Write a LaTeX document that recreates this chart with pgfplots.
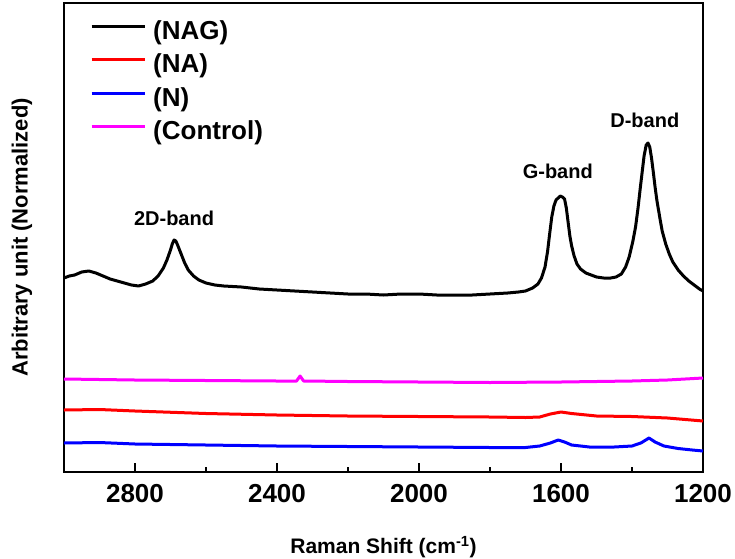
\documentclass[border=0pt]{standalone}
\usepackage{fontspec}
\setmainfont{Liberation Sans}
\usepackage{pgfplots}
\pgfplotsset{compat=1.18}
\definecolor{cmag}{RGB}{255,0,255}
\definecolor{cred}{RGB}{255,0,0}
\definecolor{cblue}{RGB}{0,0,255}
\begin{document}
\begin{tikzpicture}
\begin{axis}[
 scale only axis, width=639pt, height=469pt,
 at={(0,0)}, anchor=south west,
 x dir=reverse, xmin=1200, xmax=3000, ymin=0, ymax=469,
 xtick={1200,1600,2000,2400,2800}, minor x tick num=1,
 ytick=\empty,
 xtick pos=left, tick align=inside,
 major tick length=9pt, minor tick length=5pt,
 axis line style={line width=1.2pt},
 tick style={line width=1.2pt, black},
 /pgf/number format/assume math mode=true,
 /pgf/number format/1000 sep={},
 xticklabel style={font=\fontsize{26}{26}\selectfont\bfseries, anchor=center, yshift=-22pt},
 xlabel={Raman Shift (cm\textsuperscript{-1})},
 ylabel={Arbitrary unit (Normalized)},
 xlabel style={font=\fontsize{21}{21}\selectfont\bfseries, at={(axis description cs:0.5,-0.16)}, anchor=center},
 ylabel style={font=\fontsize{22}{22}\selectfont\bfseries, at={(axis description cs:-0.0657,0.5)}, anchor=center},
 legend style={at={(axis description cs:0,1)}, anchor=north west, draw=none, fill=none, inner sep=0pt, xshift=26pt, yshift=-18pt, row sep=9.5pt, font=\fontsize{26}{26}\selectfont\bfseries, nodes={inner sep=0pt, text height=18pt, text depth=6pt}, /tikz/every odd column/.style={column sep=7pt}},
 legend cell align=left,
 legend image code/.code={\draw[#1, line width=3pt] (0pt,7pt) -- (53pt,7pt);},
 every axis plot/.append style={line width=3pt, line join=round, no markers},
]
\addplot[black] coordinates {
(3000,194) (2985,196) (2970,197) (2950,200) (2930,201) (2910,199) (2890,196) (2870,193) (2850,191) (2830,189) (2810,187) (2790,186) (2770,188) (2750,191) (2735,196) (2720,204) (2710,212) (2700,222) (2695,228) (2690,232) (2685,231) (2680,227) (2670,218) (2660,209) (2650,202) (2635,196) (2620,192) (2600,189) (2575,187) (2550,186) (2500,185) (2450,183) (2400,182) (2350,181) (2300,180) (2250,179) (2200,178) (2150,178) (2100,177) (2050,178) (2000,178) (1950,177) (1900,177) (1850,177) (1800,178) (1750,179) (1720,180) (1700,181) (1680,184) (1665,188) (1655,194) (1645,205) (1638,220) (1632,238) (1626,255) (1620,266) (1614,272) (1608,274) (1602,276) (1596,275) (1590,273) (1585,264) (1580,250) (1575,236) (1570,226) (1563,216) (1555,208) (1545,203) (1530,199) (1515,197) (1500,195) (1480,194) (1460,194) (1445,195) (1430,198) (1418,205) (1408,215) (1398,230) (1390,245) (1383,264) (1377,283) (1372,298) (1366,316) (1360,327) (1355,329) (1350,325) (1345,314) (1340,300) (1335,285) (1330,272) (1322,255) (1315,241) (1305,228) (1295,218) (1285,210) (1270,202) (1255,196) (1240,191) (1225,187) (1210,183) (1200,181)
};
\addlegendentry{(NAG)}
\addplot[cred] coordinates {
(3000,62) (2900,62.5) (2800,61) (2600,58.5) (2400,57) (2200,56) (2000,55.5) (1800,55) (1700,54.5) (1660,55) (1630,58) (1600,60) (1570,58.5) (1500,56) (1400,55.5) (1300,54) (1250,52.5) (1200,51)
};
\addlegendentry{(NA)}
\addplot[cblue] coordinates {
(3000,29) (2900,29.5) (2800,28) (2600,27) (2400,26) (2200,25.5) (2000,25) (1800,24.5) (1700,24.5) (1660,26) (1630,29) (1608,32) (1590,30) (1570,27) (1520,25) (1450,25) (1400,26) (1375,29) (1352,34) (1335,30) (1310,26) (1270,23.5) (1230,22) (1200,21)
};
\addlegendentry{(N)}
\addplot[cmag] coordinates {
(3000,93) (2800,92) (2600,91.5) (2400,91) (2345,91) (2335,96) (2325,91) (2200,90.5) (2000,90) (1800,89.5) (1600,90) (1400,91) (1300,92) (1200,94)
};
\addlegendentry{(Control)}
\node[font=\fontsize{20}{20}\selectfont\bfseries] at (axis cs:2690,254) {2D-band};
\node[font=\fontsize{20}{20}\selectfont\bfseries] at (axis cs:1609,301) {G-band};
\node[font=\fontsize{20}{20}\selectfont\bfseries] at (axis cs:1364,352) {D-band};
\end{axis}
\pgfresetboundingbox
\path (-64pt,-86pt) rectangle (671pt,472pt);
\end{tikzpicture}
\end{document}
